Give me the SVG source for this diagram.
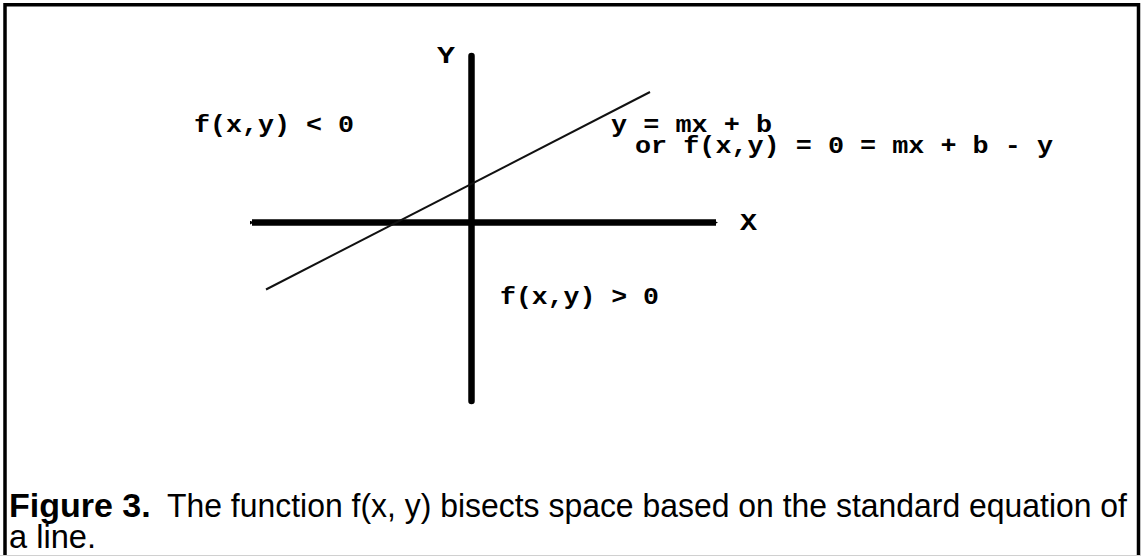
<svg xmlns="http://www.w3.org/2000/svg" width="1141" height="556" viewBox="0 0 1141 556">
<style>
.mono{font-family:"Liberation Mono","Courier New",monospace;font-size:23px;font-weight:bold;fill:#000}
.cap{font-family:"Liberation Sans",Arial,Helvetica,sans-serif;font-size:34px;fill:#000}
.axis{stroke:#000;stroke-width:6.5;fill:none}
</style>
<defs>
<marker id="ah" markerWidth="4" markerHeight="4" refX="2" refY="2" orient="auto" markerUnits="userSpaceOnUse" viewBox="0 0 4 4">
<path d="M0,0 L4,2 L0,4 z" fill="#000"/>
</marker>
</defs>
<rect x="0" y="0" width="1141" height="556" fill="#fff"/>
<g id="frame">
<path d="M5,556 L5,4.7 L1138.5,4.7 L1138.5,556" fill="none" stroke="#000" stroke-width="3.5"/>
<line x1="0" y1="555.5" x2="1141" y2="555.5" stroke="#d0d0d0" stroke-width="1"/>
</g>
<g id="connectors">
<line id="y-axis" class="axis" x1="471.5" y1="56" x2="471.5" y2="401" stroke-linecap="round"/>
<line id="x-axis" class="axis" x1="252" y1="222.6" x2="716" y2="222.6" marker-start="url(#ah)" marker-end="url(#ah)"/>
<line id="line-mxb" x1="266" y1="289.5" x2="650" y2="92" stroke="#111" stroke-width="2"/>
</g>
<g id="label-Y"><text class="mono" x="437" y="63" font-size="27" textLength="18" lengthAdjust="spacingAndGlyphs">Y</text></g>
<g id="label-X"><text class="mono" x="740" y="230" textLength="17" lengthAdjust="spacingAndGlyphs">X</text></g>
<g id="label-neg"><text class="mono" x="194" y="132" textLength="160" lengthAdjust="spacingAndGlyphs">f(x,y) &lt; 0</text></g>
<g id="label-eq">
<text class="mono" x="611" y="132" textLength="161" lengthAdjust="spacingAndGlyphs">y = mx + b</text>
<text class="mono" x="635" y="153" textLength="418" lengthAdjust="spacingAndGlyphs">or f(x,y) = 0 = mx + b - y</text>
</g>
<g id="label-pos"><text class="mono" x="500" y="304" textLength="159" lengthAdjust="spacingAndGlyphs">f(x,y) &gt; 0</text></g>
<g id="caption">
<text class="cap" x="9" y="517" font-weight="bold">Figure 3.</text>
<text class="cap" x="167" y="517" textLength="960" lengthAdjust="spacingAndGlyphs">The function f(x, y) bisects space based on the standard equation of</text>
<text class="cap" x="9" y="548" textLength="87" lengthAdjust="spacingAndGlyphs">a line.</text>
</g>
</svg>
